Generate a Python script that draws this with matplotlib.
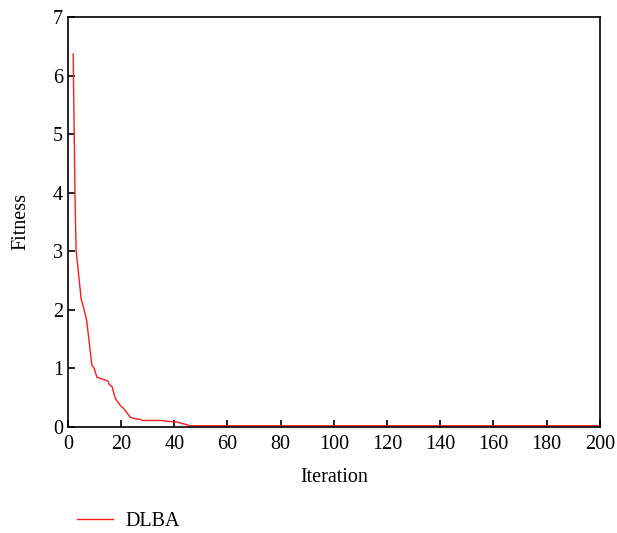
import matplotlib
matplotlib.use("Agg")
import matplotlib.pyplot as plt

plt.rcParams['font.family'] = ['Liberation Serif', 'DejaVu Serif']

# DLBA convergence curve (best fitness per iteration)
iterations = [2, 2.7, 3.1, 5.0, 5.8, 7.1, 9.0, 9.9, 10.9, 15.0, 15.6, 16.6, 17.8,
              19.8, 20.9, 23.4, 25.0, 27.2, 27.9, 35.7, 37.0, 40.8, 44.5, 46.0, 200]
fitness = [6.37, 3.87, 3.02, 2.18, 2.06, 1.81, 1.06, 1.00, 0.85, 0.785, 0.72, 0.69, 0.49,
           0.36, 0.32, 0.17, 0.14, 0.13, 0.11, 0.11, 0.097, 0.085, 0.04, 0.02, 0.02]

xticks = list(range(0, 201, 20))
yticks = list(range(0, 8))

fig = plt.figure(figsize=(6.17, 5.33), dpi=100)
ax = fig.add_axes([0.110, 0.199, 0.862, 0.769])

line, = ax.plot(iterations, fitness, color='#ff1a1a', linewidth=1.0, label='DLBA')

ax.set_xlim(0, 200)
ax.set_ylim(0, 7)
ax.set_xticks(xticks)
ax.set_yticks(yticks)
ax.tick_params(direction='in', length=5, width=1.2, labelsize=14.5, top=False, right=False)
ax.tick_params(axis='x', pad=6)
for s in ax.spines.values():
    s.set_linewidth(1.2)

ax.set_xlabel('Iteration', fontsize=14.5, labelpad=10)
ax.set_ylabel('Fitness', fontsize=14.5, labelpad=16)

fig.legend(handles=[line], loc='lower left', bbox_to_anchor=(0.095, -0.03),
           frameon=False, fontsize=14.5, handlelength=1.8, handletextpad=0.6)

fig.savefig('out.png', dpi=100)
